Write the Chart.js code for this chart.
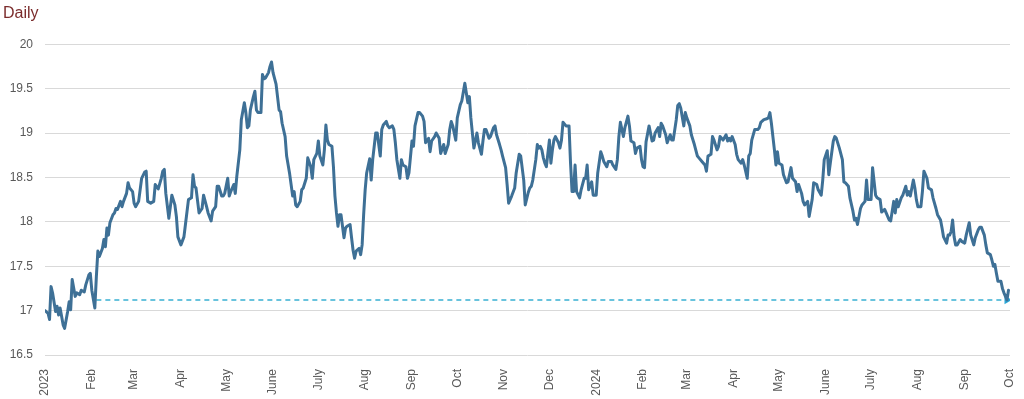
<!DOCTYPE html>
<html>
<head>
<meta charset="utf-8">
<script src="https://cdn.jsdelivr.net/npm/chart.js@4/dist/chart.umd.min.js"></script>
<style>
html,body{margin:0;padding:0;background:#fff;}
#wrap{width:1024px;height:399px;position:relative;}
</style>
</head>
<body>
<div id="wrap"><canvas id="c" width="1024" height="399"></canvas></div>
<script>
// Day offsets from 2023-01-01 and daily values
const days = [0,2,3,4,5,7,8,9,10,12,13,15,16,17,18,20,21,23,24,26,27,29,30,31,33,34,35,36,38,39,40,41,42,43,45,46,47,48,50,51,52,54,55,56,58,59,60,62,64,66,67,68,70,72,73,75,77,78,79,80,82,83,84,86,87,88,90,92,93,95,97,98,99,100,102,104,105,107,108,110,111,113,114,115,117,118,119,121,122,123,125,126,127,129,130,132,133,134,135,136,138,139,140,141,143,144,145,146,148,149,150,151,153,155,156,157,159,160,162,164,165,166,167,169,170,171,173,174,176,177,178,180,181,182,184,185,186,187,188,190,191,192,193,194,195,196,198,199,200,202,203,204,205,206,208,209,210,211,212,213,215,216,217,219,220,222,223,224,226,227,228,230,231,232,233,235,236,237,239,240,241,243,244,245,247,248,250,251,252,254,255,256,258,259,261,262,264,265,267,268,269,270,272,273,275,276,278,279,280,281,282,284,285,286,287,289,290,291,292,294,295,297,298,299,301,302,303,305,306,307,309,311,312,314,315,317,318,320,321,322,323,325,326,327,328,329,330,331,332,334,335,336,337,338,340,341,342,343,345,347,348,349,350,351,352,354,355,357,358,359,360,362,363,365,366,368,369,370,372,373,375,376,378,379,380,381,383,384,386,387,388,390,391,392,394,395,396,397,398,400,402,403,404,406,407,408,409,411,412,414,415,416,418,419,420,421,423,424,425,427,428,430,432,433,435,437,438,439,441,442,443,445,446,447,448,449,451,452,453,454,455,457,458,459,461,462,463,465,466,467,468,470,472,473,474,476,478,479,480,481,482,483,484,485,486,488,489,491,492,494,495,497,498,499,501,502,503,505,506,508,509,511,512,514,515,516,518,519,520,522,523,524,526,528,529,530,532,533,535,536,537,538,540,541,543,544,545,547,548,550,551,553,554,556,557,559,560,562,563,564,565,567,568,570,571,572,573,575,576,577,578,580,581,582,584,585,587,588,590,591,593,594,595,597,598,599,600,601,602,603,604,606,607,609,610,612,613,615,616,618,619,620,622,623,624,626,627,628,629,630,631,633,634,635,636,637,638];
const values = [17.00,16.97,16.90,17.27,17.20,16.99,17.05,16.95,17.03,16.84,16.80,16.99,17.10,17.01,17.35,17.16,17.20,17.18,17.23,17.21,17.29,17.40,17.42,17.23,17.03,17.38,17.67,17.61,17.70,17.80,17.72,17.93,17.85,17.99,18.08,18.10,18.15,18.14,18.23,18.17,18.23,18.32,18.44,18.38,18.34,18.21,18.17,18.23,18.49,18.56,18.57,18.23,18.21,18.23,18.42,18.37,18.49,18.57,18.59,18.32,18.04,18.17,18.30,18.19,18.06,17.83,17.74,17.83,17.97,18.25,18.27,18.53,18.40,18.38,18.10,18.15,18.30,18.17,18.10,18.01,18.12,18.17,18.40,18.40,18.29,18.29,18.32,18.49,18.29,18.34,18.42,18.32,18.51,18.81,19.15,19.34,19.23,19.06,19.08,19.26,19.41,19.47,19.26,19.23,19.23,19.66,19.61,19.62,19.68,19.75,19.80,19.68,19.55,19.26,19.24,19.11,18.96,18.74,18.54,18.29,18.34,18.19,18.17,18.23,18.36,18.38,18.49,18.72,18.62,18.49,18.70,18.77,18.91,18.74,18.64,18.81,19.09,18.92,18.87,18.85,18.62,18.29,18.10,17.95,18.08,18.08,17.82,17.93,17.95,17.97,17.82,17.68,17.59,17.67,17.70,17.63,17.74,18.08,18.36,18.55,18.71,18.47,18.70,19.00,19.00,18.74,19.04,19.09,19.13,19.08,19.06,19.08,19.04,18.89,18.70,18.49,18.70,18.64,18.62,18.49,18.55,18.91,18.85,19.08,19.23,19.23,19.19,19.13,18.89,18.94,18.79,18.91,18.96,19.00,18.94,18.77,18.87,18.77,18.87,19.04,19.13,19.08,18.92,19.17,19.32,19.36,19.56,19.45,19.34,19.41,19.17,18.83,18.91,19.00,18.89,18.76,18.91,19.04,19.04,18.94,18.96,19.06,19.08,18.98,18.87,18.81,18.74,18.61,18.42,18.21,18.29,18.38,18.55,18.76,18.74,18.47,18.19,18.33,18.38,18.40,18.47,18.70,18.87,18.83,18.85,18.81,18.72,18.66,18.62,18.92,18.66,18.81,18.92,18.96,18.89,18.83,18.92,19.12,19.08,19.08,18.66,18.34,18.34,18.64,18.34,18.27,18.36,18.49,18.49,18.64,18.36,18.45,18.30,18.30,18.55,18.79,18.74,18.68,18.62,18.68,18.68,18.64,18.59,18.70,18.96,19.12,18.96,19.06,19.19,19.08,18.91,18.89,18.77,18.83,18.85,18.70,18.62,18.61,18.90,19.08,18.91,18.92,19.00,19.06,18.96,19.11,19.08,18.98,18.89,18.98,18.92,18.92,19.15,19.31,19.33,19.28,19.08,19.23,19.17,19.08,18.98,18.87,18.74,18.72,18.68,18.64,18.57,18.74,18.76,18.96,18.92,18.81,18.85,18.96,18.94,18.92,18.98,18.91,18.94,18.91,18.96,18.87,18.76,18.70,18.66,18.70,18.64,18.49,18.74,18.77,18.92,19.04,19.04,19.06,19.12,19.15,19.16,19.17,19.23,19.11,18.96,18.81,18.64,18.79,18.66,18.64,18.53,18.44,18.45,18.61,18.49,18.45,18.34,18.42,18.32,18.23,18.19,18.23,18.06,18.25,18.44,18.42,18.36,18.30,18.47,18.70,18.80,18.53,18.66,18.91,18.96,18.94,18.83,18.70,18.45,18.44,18.40,18.27,18.12,18.02,18.04,17.97,18.15,18.19,18.23,18.47,18.25,18.25,18.61,18.30,18.27,18.25,18.11,18.14,18.10,18.02,18.01,18.23,18.10,18.25,18.17,18.27,18.30,18.40,18.30,18.34,18.29,18.47,18.38,18.25,18.17,18.17,18.34,18.57,18.49,18.38,18.36,18.27,18.15,18.08,18.02,17.93,17.83,17.76,17.85,17.85,17.89,18.02,17.83,17.74,17.74,17.80,17.78,17.76,17.85,17.99,17.85,17.74,17.82,17.91,17.94,17.94,17.85,17.74,17.65,17.63,17.57,17.50,17.52,17.42,17.33,17.33,17.25,17.20,17.16,17.12,17.23];

// Reference dashed line (start / end day, level)
const refDays = [34, 637];
const refValues = [17.12, 17.12];

// Month tick positions (day offsets) and labels
const tickDays = [0,31,59,90,120,151,181,212,243,273,304,334,365,396,425,456,486,517,547,578,609,639];
const tickLabels = ['2023','Feb','Mar','Apr','May','June','July','Aug','Sep','Oct','Nov','Dec','2024','Feb','Mar','Apr','May','June','July','Aug','Sep','Oct'];
const yTicks = [16.5,17,17.5,18,18.5,19,19.5,20];

const mainData = days.map((d,i)=>({x:d,y:values[i]}));
const refData = refDays.map((d,i)=>({x:d,y:refValues[i]}));

const labelFont = {family:"'Liberation Sans', Arial, sans-serif", size:12};

new Chart(document.getElementById('c'), {
  type:'line',
  data:{
    datasets:[
      {
        data: refData,
        borderColor:'#38b0d2',
        backgroundColor:'#2aa6d6',
        borderWidth:1.5,
        borderDash:[5,4],
        pointRadius:[0,5],
        pointStyle:'triangle',
        pointRotation:[0,90],
        pointBorderWidth:0,
        order:2
      },
      {
        data: mainData,
        borderColor:'#3e7096',
        borderWidth:3,
        pointRadius:0,
        tension:0,
        borderJoinStyle:'round',
        borderCapStyle:'round',
        order:1
      }
    ]
  },
  options:{
    responsive:false,
    animation:false,
    layout:{padding:{left:3,right:14,top:0,bottom:0}},
    plugins:{
      legend:{display:false},
      tooltip:{enabled:false},
      title:{
        display:true,
        text:'Daily',
        align:'start',
        color:'#7b2c2c',
        font:{family:"'Liberation Sans', Arial, sans-serif", size:16, weight:'normal'},
        padding:{top:4,bottom:21}
      }
    },
    scales:{
      x:{
        type:'linear',
        min:0,
        max:639,
        grid:{display:false},
        border:{display:false},
        afterBuildTicks:(scale)=>{ scale.ticks = tickDays.map(v=>({value:v})); },
        afterFit:(scale)=>{ scale.height = 44; scale.paddingLeft = 0; scale.paddingRight = 0; },
        ticks:{
          autoSkip:false,
          minRotation:90,
          maxRotation:90,
          padding:6,
          color:'#595959',
          font:labelFont,
          callback:(v)=>{ const i = tickDays.indexOf(v); return i>=0 ? tickLabels[i] : ''; }
        }
      },
      y:{
        min:16.5,
        max:20,
        afterBuildTicks:(scale)=>{ scale.ticks = yTicks.map(v=>({value:v})); },
        afterFit:(scale)=>{ scale.width = 42; },
        grid:{color:'#d9d9d9', drawTicks:false, lineWidth:1},
        border:{display:false},
        ticks:{
          padding:12,
          color:'#595959',
          font:labelFont,
          callback:(v)=>String(v)
        }
      }
    }
  }
});
</script>
</body>
</html>
